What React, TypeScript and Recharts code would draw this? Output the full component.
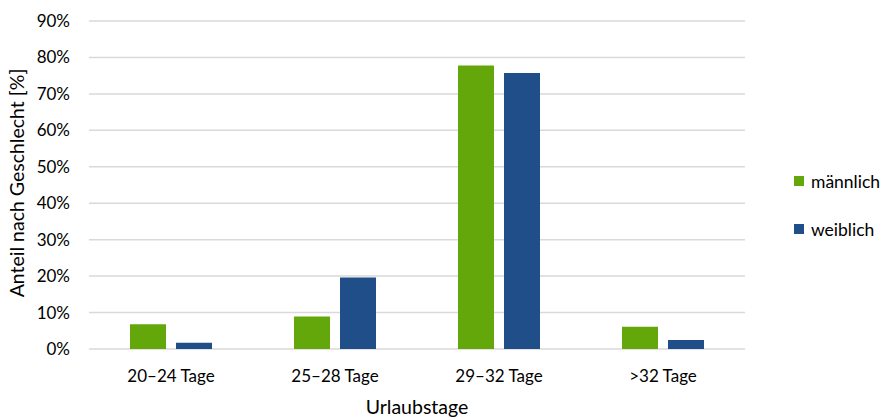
import { Bar, BarChart, CartesianGrid, XAxis, YAxis } from "recharts";

const categories = ["20–24 Tage", "25–28 Tage", "29–32 Tage", ">32 Tage"];
const maennlich = [6.8, 8.9, 77.8, 6.1];
const weiblich = [1.7, 19.6, 75.7, 2.5];
const yTicks = [0, 10, 20, 30, 40, 50, 60, 70, 80, 90];

const GREEN = "#64a70b";
const BLUE = "#1f4e89";
const FONT = "Lato, 'Open Sans', sans-serif";

const data = categories.map((name, i) => ({
  name,
  maennlich: maennlich[i],
  weiblich: weiblich[i],
}));

const legendItems = [
  { label: "männlich", color: GREEN },
  { label: "weiblich", color: BLUE },
];

// legend sits outside the svg so it doesn't eat plot width
function LegendBox() {
  return (
    <div style={{ position: "absolute", left: 794, top: 171, fontFamily: FONT, fontSize: 17.5, color: "#000" }}>
      {legendItems.map((it) => (
        <div key={it.label} style={{ display: "flex", alignItems: "center", height: 20, marginBottom: 28 }}>
          <span style={{ width: 10, height: 10, background: it.color, marginRight: 7 }} />
          <span>{it.label}</span>
        </div>
      ))}
    </div>
  );
}

export default function App() {
  return (
    <div style={{ position: "absolute", left: 0, top: 0, width: 885, height: 419, background: "#fff" }}>
      <BarChart
        width={885}
        height={419}
        data={data}
        margin={{ top: 21, right: 140, bottom: 30, left: 0 }}
        barGap={10}
        barSize={36}
      >
        <CartesianGrid vertical={false} stroke="#d9d9d9" strokeWidth={1.5} />
        <XAxis
          dataKey="name"
          axisLine={false}
          tickLine={false}
          height={40}
          tickMargin={15}
          tick={{ fill: "#000", fontSize: 17, fontFamily: FONT }}
          label={{
            value: "Urlaubstage",
            position: "bottom",
            offset: 11,
            style: { fill: "#000", fontSize: 19.5, fontFamily: FONT },
          }}
        />
        <YAxis
          width={89}
          domain={[0, 90]}
          ticks={yTicks}
          interval={0}
          axisLine={false}
          tickLine={false}
          tickMargin={13}
          tickFormatter={(v) => `${v}%`}
          tick={{ fill: "#000", fontSize: 17, fontFamily: FONT }}
          label={{
            value: "Anteil nach Geschlecht [%]",
            angle: -90,
            position: "center",
            dx: -27,
            dy: -2,
            style: { fill: "#000", fontSize: 19.5, fontFamily: FONT, textAnchor: "middle" },
          }}
        />
        <Bar dataKey="maennlich" name="männlich" fill={GREEN} isAnimationActive={false} />
        <Bar dataKey="weiblich" name="weiblich" fill={BLUE} isAnimationActive={false} />
      </BarChart>
      <LegendBox />
    </div>
  );
}
